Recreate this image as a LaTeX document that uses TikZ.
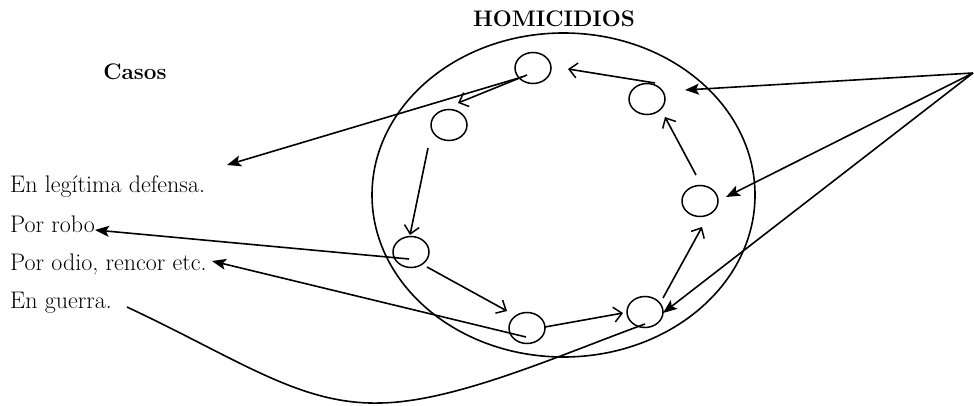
\documentclass[tikz,border=0pt]{standalone}
\usetikzlibrary{arrows.meta,shapes.geometric}
\begin{document}
\begin{tikzpicture}[x=1pt,y=-1pt,
  lw/.style={line width=1.6pt},
  sm/.style={draw,ellipse,line width=1.5pt,minimum width=36pt,minimum height=31pt,inner sep=0pt},
  openarr/.style={lw,-{Straight Barb[length=8pt,width=15pt,line width=1.5pt]}},
  fillarr/.style={lw,-{Stealth[length=14pt,width=11pt,inset=3pt]}},
  lbl/.style={anchor=base west,inner sep=0pt,font=\fontsize{24}{28}\selectfont},
  ttl/.style={inner sep=0pt,font=\fontsize{22.5}{26}\selectfont\bfseries}]
\useasboundingbox (0,0) rectangle (974,406);
% titles
\node[ttl,anchor=base] (tit) at (554,27) {HOMICIDIOS};
\node[ttl,anchor=base] (casos) at (135,80) {Casos};
% labels
\node[lbl] (t1) at (10,193) {En legítima defensa.};
\node[lbl] (t2) at (10,232) {Por robo};
\node[lbl] (t3) at (10,270) {Por odio, rencor etc.};
\node[lbl] (t4) at (10,308) {En guerra.};
% big ellipse
\node[draw,ellipse,lw,minimum width=383pt,minimum height=324pt,inner sep=0pt] (big) at (563.5,195) {};
% small circles
\node[sm] (c1) at (533,68) {};
\node[sm] (c2) at (647,99) {};
\node[sm] (c3) at (449,125) {};
\node[sm] (c4) at (700,201) {};
\node[sm] (c5) at (411,252) {};
\node[sm] (c6) at (527,328) {};
\node[sm] (c7) at (645,312) {};
% coordinates
\coordinate (a1) at (655,83);  \coordinate (a2) at (568,69);
\coordinate (b1) at (527,75);  \coordinate (b2) at (458,103);
\coordinate (e1) at (428,148); \coordinate (e2) at (410,235);
\coordinate (d1) at (427,267); \coordinate (d2) at (507,311);
\coordinate (f1) at (545,327); \coordinate (f2) at (623,313);
\coordinate (g1) at (663,298); \coordinate (g2) at (702,227);
\coordinate (h1) at (696,175); \coordinate (h2) at (665,117);
\coordinate (P) at (973,73);
\coordinate (p1) at (685,90);
\coordinate (p2) at (726,197);
\coordinate (p3) at (663,313);
\coordinate (L1) at (522,77);  \coordinate (L1t) at (227,165);
\coordinate (L2) at (409,259); \coordinate (L2t) at (95,230);
\coordinate (L3) at (526,337); \coordinate (L3t) at (212,261);
\coordinate (gs) at (127,307);
\coordinate (ge) at (645,324);
% inner open arrows
\draw[openarr] (a1) -- (a2);
\draw[openarr] (b1) -- (b2);
\draw[openarr] (e1) -- (e2);
\draw[openarr] (d1) -- (d2);
\draw[openarr] (f1) -- (f2);
\draw[openarr] (g1) -- (g2);
\draw[openarr] (h1) -- (h2);
% outer filled arrows
\draw[fillarr] (P) -- (p1);
\draw[fillarr] (P) -- (p2);
\draw[fillarr] (P) -- (p3);
\draw[fillarr] (L1) -- (L1t);
\draw[fillarr] (L2) -- (L2t);
\draw[fillarr] (L3) -- (L3t);
% curve
\draw[lw] (gs) .. controls (240,360) and (300,405) .. (380,403)
          .. controls (455,402) and (560,355) .. (ge);
\end{tikzpicture}
\end{document}
